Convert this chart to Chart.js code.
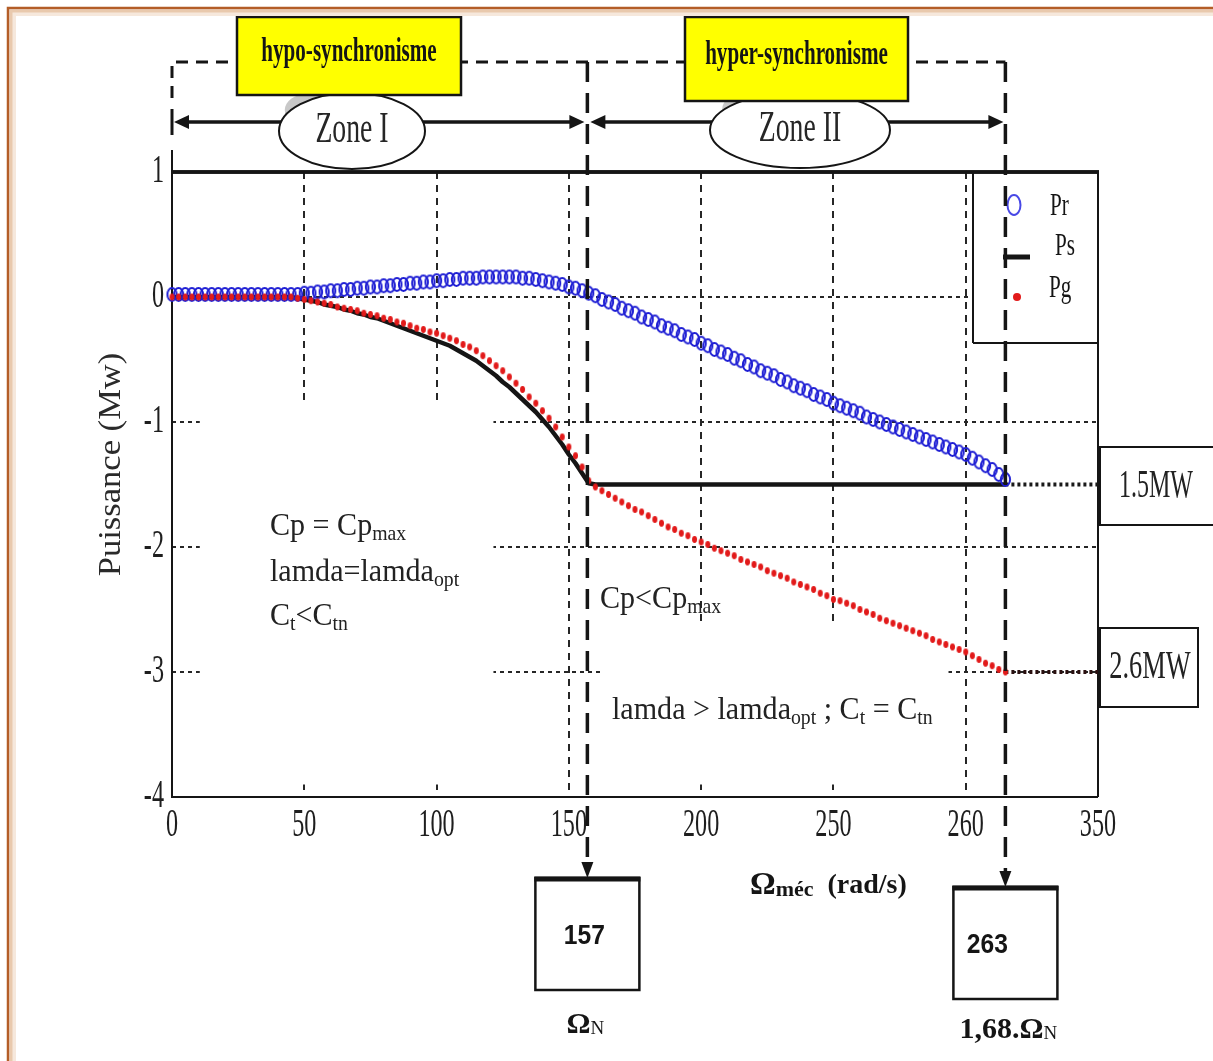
<!DOCTYPE html>
<html>
<head>
<meta charset="utf-8">
<title>Puissances Pr, Ps, Pg en fonction de la vitesse mécanique</title>
<script src="https://cdn.jsdelivr.net/npm/chart.js@4.4.1/dist/chart.umd.min.js"></script>
<style>
  html, body { margin: 0; padding: 0; background: #ffffff; }
  #wrap { position: relative; width: 1213px; height: 1061px; }
</style>
</head>
<body>
<div id="wrap"><canvas id="fig" width="1213" height="1061"></canvas></div>
<script>
// Vitesse mécanique (rad/s)
const omega = [
  0, 2.5, 5, 7.5, 10, 12.5, 15, 17.5, 20, 22.5,
  25, 27.5, 30, 32.5, 35, 37.5, 40, 42.5, 45, 47.5,
  50, 52.5, 55, 57.5, 60, 62.5, 65, 67.5, 70, 72.5,
  75, 77.5, 80, 82.5, 85, 87.5, 90, 92.5, 95, 97.5,
  100, 102.5, 105, 107.5, 110, 112.5, 115, 117.5, 120, 122.5,
  125, 127.5, 130, 132.5, 135, 137.5, 140, 142.5, 145, 147.5,
  150, 152.5, 155, 157.5, 160, 162.5, 165, 167.5, 170, 172.5,
  175, 177.5, 180, 182.5, 185, 187.5, 190, 192.5, 195, 197.5,
  200, 202.5, 205, 207.5, 210, 212.5, 215, 217.5, 220, 222.5,
  225, 227.5, 230, 232.5, 235, 237.5, 240, 242.5, 245, 247.5,
  250, 252.5, 255, 257.5, 260, 262.5, 265, 267.5, 270, 272.5,
  275, 277.5, 280, 282.5, 285, 287.5, 290, 292.5, 295, 297.5,
  300, 302.5, 305, 307.5, 310, 312.5, 315
];

// Puissance rotorique Pr (MW)
const pr = [
  0.02, 0.02, 0.02, 0.02, 0.02, 0.02, 0.02, 0.02, 0.02, 0.02,
  0.02, 0.02, 0.02, 0.02, 0.02, 0.02, 0.02, 0.02, 0.02, 0.02,
  0.03, 0.03, 0.04, 0.04, 0.05, 0.05, 0.06, 0.06, 0.07, 0.07,
  0.08, 0.08, 0.09, 0.09, 0.10, 0.10, 0.11, 0.11, 0.12, 0.12,
  0.13, 0.13, 0.14, 0.14, 0.15, 0.15, 0.15, 0.16, 0.16, 0.16,
  0.16, 0.16, 0.16, 0.15, 0.15, 0.14, 0.13, 0.12, 0.11, 0.10,
  0.08, 0.07, 0.05, 0.03, 0.01, -0.02, -0.04, -0.06, -0.09, -0.11,
  -0.13, -0.16, -0.18, -0.20, -0.23, -0.25, -0.27, -0.30, -0.32, -0.34,
  -0.37, -0.39, -0.42, -0.44, -0.46, -0.49, -0.51, -0.54, -0.56, -0.59,
  -0.61, -0.63, -0.66, -0.68, -0.71, -0.73, -0.75, -0.78, -0.80, -0.82,
  -0.85, -0.87, -0.89, -0.91, -0.93, -0.96, -0.98, -1.00, -1.02, -1.04,
  -1.06, -1.08, -1.10, -1.12, -1.14, -1.16, -1.18, -1.20, -1.22, -1.24,
  -1.26, -1.29, -1.32, -1.35, -1.38, -1.42, -1.46
];

// Puissance statorique Ps (MW)
const ps = [
  0, 0, 0, 0, 0, 0, 0, 0, 0, 0,
  0, 0, 0, 0, 0, 0, 0, 0, 0, -0.01,
  -0.02, -0.03, -0.04, -0.06, -0.07, -0.08, -0.10, -0.11, -0.13, -0.14,
  -0.16, -0.17, -0.19, -0.21, -0.23, -0.25, -0.27, -0.29, -0.31, -0.33,
  -0.35, -0.37, -0.39, -0.42, -0.45, -0.48, -0.51, -0.55, -0.59, -0.63,
  -0.68, -0.72, -0.77, -0.82, -0.87, -0.92, -0.98, -1.04, -1.11, -1.18,
  -1.26, -1.33, -1.41, -1.49, -1.50, -1.50, -1.50, -1.50, -1.50, -1.50,
  -1.50, -1.50, -1.50, -1.50, -1.50, -1.50, -1.50, -1.50, -1.50, -1.50,
  -1.50, -1.50, -1.50, -1.50, -1.50, -1.50, -1.50, -1.50, -1.50, -1.50,
  -1.50, -1.50, -1.50, -1.50, -1.50, -1.50, -1.50, -1.50, -1.50, -1.50,
  -1.50, -1.50, -1.50, -1.50, -1.50, -1.50, -1.50, -1.50, -1.50, -1.50,
  -1.50, -1.50, -1.50, -1.50, -1.50, -1.50, -1.50, -1.50, -1.50, -1.50,
  -1.50, -1.50, -1.50, -1.50, -1.50, -1.50, -1.50
];

// Puissance totale générée Pg (MW)
const pg = [
  0, 0, 0, 0, 0, 0, 0, 0, 0, 0,
  0, 0, 0, 0, 0, 0, 0, 0, 0, -0.01,
  -0.02, -0.03, -0.04, -0.05, -0.06, -0.08, -0.09, -0.10, -0.11, -0.13,
  -0.14, -0.15, -0.17, -0.18, -0.20, -0.21, -0.23, -0.25, -0.26, -0.28,
  -0.29, -0.31, -0.33, -0.35, -0.38, -0.40, -0.43, -0.47, -0.51, -0.55,
  -0.59, -0.64, -0.69, -0.74, -0.80, -0.85, -0.91, -0.97, -1.04, -1.12,
  -1.20, -1.27, -1.36, -1.47, -1.52, -1.55, -1.58, -1.61, -1.64, -1.67,
  -1.70, -1.72, -1.75, -1.78, -1.81, -1.84, -1.86, -1.89, -1.91, -1.94,
  -1.96, -1.98, -2.01, -2.03, -2.05, -2.07, -2.10, -2.12, -2.14, -2.16,
  -2.19, -2.21, -2.23, -2.25, -2.28, -2.30, -2.32, -2.34, -2.37, -2.39,
  -2.42, -2.43, -2.45, -2.47, -2.50, -2.52, -2.54, -2.57, -2.59, -2.61,
  -2.63, -2.65, -2.67, -2.69, -2.71, -2.74, -2.76, -2.78, -2.80, -2.82,
  -2.84, -2.87, -2.90, -2.93, -2.95, -2.98, -3.00
];

// Prolongements pointillés au-delà de la zone II
const tailOmega = [315, 350];
const tailPs = [-1.5, -1.5];
const tailPg = [-3.0, -3.0];

const seriesNames = ['Pr', 'Ps', 'Pg'];
const xTickLabels = ['0', '50', '100', '150', '200', '250', '260', '350'];
const yTickLabels = ['-4', '-3', '-2', '-1', '0', '1'];

// Vitesses repères (position sur l'axe, texte du cadre)
const markerPos = [157, 315];
const markerText = ['157', '263'];
const levelText = ['1.5MW', '2.6MW'];
const zoneNames = ['Zone I', 'Zone II'];
const regimeNames = ['hypo-synchronisme', 'hyper-synchronisme'];

const INK = '#151515';
const BLUE = '#1f1fd4';
const RED = '#e21a1a';
const SERIF = '"Liberation Serif", "Times New Roman", serif';
const SANS = '"Liberation Sans", Arial, sans-serif';

function makeMark(w, h, rx, ry, stroke, fill, lw) {
  const c = document.createElement('canvas');
  c.width = w; c.height = h;
  const g = c.getContext('2d');
  g.beginPath();
  g.ellipse(w / 2, h / 2, rx, ry, 0, 0, Math.PI * 2);
  if (fill) { g.fillStyle = fill; g.fill(); }
  if (stroke) { g.lineWidth = lw; g.strokeStyle = stroke; g.stroke(); }
  return c;
}
const ringMark = makeMark(13, 17, 4.6, 6.4, BLUE, null, 2);
const dotMark = makeMark(7, 9, 2.5, 3.4, null, RED, 0);

const pts = (xs, ys) => xs.map((w, i) => ({ x: w, y: ys[i] }));

function font(size, bold, fam) { return (bold ? 'bold ' : '') + size + 'px ' + (fam || SERIF); }

// Draws a run of text pieces (for subscripts), optionally squeezed horizontally
function runs(ctx, parts, x, y, opt) {
  const sx = opt.sx || 1;
  const ws = parts.map(p => { ctx.font = font(p.size, p.bold, opt.fam); return ctx.measureText(p.s).width * sx; });
  const total = ws.reduce((s, w) => s + w, 0);
  let cx = opt.align === 'center' ? x - total / 2 : (opt.align === 'right' ? x - total : x);
  parts.forEach((p, i) => {
    ctx.save();
    ctx.font = font(p.size, p.bold, opt.fam);
    ctx.fillStyle = opt.color || INK;
    ctx.textBaseline = 'middle';
    ctx.textAlign = 'left';
    ctx.translate(cx, y + (p.dy || 0));
    ctx.scale(sx, 1);
    ctx.fillText(p.s, 0, 0);
    ctx.restore();
    cx += ws[i];
  });
}
function txt(ctx, s, x, y, size, opt) { runs(ctx, [{ s, size, bold: opt.bold }], x, y, opt); }

function line(ctx, x1, y1, x2, y2, w, dash) {
  ctx.save();
  ctx.strokeStyle = INK; ctx.lineWidth = w;
  ctx.setLineDash(dash || []);
  ctx.beginPath(); ctx.moveTo(x1, y1); ctx.lineTo(x2, y2); ctx.stroke();
  ctx.restore();
}
function tri(ctx, pts3) {
  ctx.save(); ctx.fillStyle = INK; ctx.beginPath();
  ctx.moveTo(pts3[0][0], pts3[0][1]); ctx.lineTo(pts3[1][0], pts3[1][1]); ctx.lineTo(pts3[2][0], pts3[2][1]);
  ctx.closePath(); ctx.fill(); ctx.restore();
}

// Areas kept free of grid lines behind the annotations (axis units)
const clearZones = [[10.5, 121.5, -0.83, -3.9], [162.5, 293.5, -2.62, -3.9]];

const figurePlugin = {
  id: 'figure',
  beforeDatasetsDraw(chart) {
    const { ctx, chartArea: a, scales: { x, y } } = chart;
    ctx.save();
    ctx.fillStyle = '#ffffff';
    clearZones.forEach(z => {
      const x0 = x.getPixelForValue(z[0]), x1 = x.getPixelForValue(z[1]);
      const y0 = y.getPixelForValue(z[2]), y1 = y.getPixelForValue(z[3]);
      ctx.fillRect(x0, y0, x1 - x0, y1 - y0);
    });
    ctx.restore();
    // axes box
    line(ctx, a.left, a.top - 22, a.left, a.bottom + 1, 2);
    line(ctx, a.left, a.bottom, a.right, a.bottom, 2);
    line(ctx, a.right, a.top, a.right, a.bottom, 2);
    line(ctx, a.left, a.top, a.right + 1, a.top, 3.5);
  },
  afterDatasetsDraw(chart) {
    const { ctx, chartArea: a } = chart;
    // legend box in the upper right corner
    const lx = 973, lh = 171;
    ctx.save();
    ctx.fillStyle = '#ffffff';
    ctx.fillRect(lx, a.top + 2, a.right - lx - 1, lh - 2);
    ctx.restore();
    line(ctx, lx, a.top, lx, a.top + lh, 2);
    line(ctx, lx, a.top + lh, a.right, a.top + lh, 2);
    line(ctx, a.left, a.top, a.right + 1, a.top, 3.5);
    const ds = chart.data.datasets;
    const byName = n => ds.find(d => d.label === n);
    // Pr
    ctx.save();
    ctx.strokeStyle = '#4848e6'; ctx.lineWidth = 2;
    ctx.beginPath(); ctx.ellipse(1014, 205, 6.5, 10, 0, 0, Math.PI * 2); ctx.stroke();
    ctx.restore();
    txt(ctx, seriesNames[0], 1050, 207, 32, { sx: 0.66 });
    // Ps
    ctx.save();
    ctx.strokeStyle = byName(seriesNames[1]).borderColor; ctx.lineWidth = 5;
    ctx.beginPath(); ctx.moveTo(1003, 257); ctx.lineTo(1030, 257); ctx.stroke();
    ctx.restore();
    txt(ctx, seriesNames[1], 1055, 247, 32, { sx: 0.66 });
    // Pg
    ctx.save();
    ctx.fillStyle = byName(seriesNames[2]).backgroundColor;
    ctx.beginPath(); ctx.arc(1017, 297, 4, 0, Math.PI * 2); ctx.fill();
    ctx.restore();
    txt(ctx, seriesNames[2], 1049, 289, 32, { sx: 0.66 });
  },
  afterDraw(chart) {
    const { ctx, chartArea: a, scales: { x, y } } = chart;
    const mx = markerPos.map(v => x.getPixelForValue(v));
    const TOP = 62, ARW = 122;

    // tick labels
    x.ticks.forEach(t => txt(ctx, t.label, x.getPixelForValue(t.value), a.bottom + 29, 39, { sx: 0.62, align: 'center', color: '#1e1e1e' }));
    y.ticks.forEach(t => txt(ctx, t.label, a.left - 8, y.getPixelForValue(t.value), 39, { sx: 0.62, align: 'right', color: '#1e1e1e' }));

    // axis titles
    ctx.save();
    ctx.translate(112, (a.top + a.bottom) / 2 - 20);
    ctx.rotate(-Math.PI / 2);
    ctx.scale(1.08, 1);
    ctx.font = font(32, false);
    ctx.fillStyle = '#2a2a2a';
    ctx.textAlign = 'center'; ctx.textBaseline = 'middle';
    ctx.fillText('Puissance (Mw)', 0, 0);
    ctx.restore();
    runs(ctx, [
      { s: 'Ω', size: 32, bold: true },
      { s: 'méc', size: 22, bold: true, dy: 4 },
      { s: '  (rad/s)', size: 28, bold: true }
    ], 750, 886, { sx: 1 });

    // dashed bracket above the plot
    ctx.save();
    ctx.strokeStyle = INK; ctx.lineWidth = 3; ctx.setLineDash([12, 8]);
    ctx.beginPath(); ctx.moveTo(a.left, TOP + 36); ctx.lineTo(a.left, TOP); ctx.lineTo(mx[1], TOP); ctx.stroke();
    ctx.restore();

    // zone arrows
    const hArrow = (x1, x2) => {
      line(ctx, x1 + 8, ARW, x2 - 8, ARW, 3.5);
      tri(ctx, [[x1, ARW], [x1 + 15, ARW - 7], [x1 + 15, ARW + 7]]);
      tri(ctx, [[x2, ARW], [x2 - 15, ARW - 7], [x2 - 15, ARW + 7]]);
    };
    hArrow(a.left + 2, mx[0] - 3);
    hArrow(mx[0] + 3, mx[1] - 2);
    line(ctx, a.left, ARW - 13, a.left, ARW + 13, 3);

    // zone bubbles
    const bubble = (cx, cy, rx, ry, label) => {
      ctx.save();
      ctx.fillStyle = '#c8c8c8';
      ctx.beginPath(); ctx.ellipse(cx - rx * 0.62, cy - ry * 0.55, 22, 16, 0, 0, Math.PI * 2); ctx.fill();
      ctx.fillStyle = '#ffffff'; ctx.strokeStyle = INK; ctx.lineWidth = 2;
      ctx.beginPath(); ctx.ellipse(cx, cy, rx, ry, 0, 0, Math.PI * 2); ctx.fill(); ctx.stroke();
      ctx.restore();
      txt(ctx, label, cx, cy - 1, 44, { sx: 0.63, align: 'center', color: '#262626' });
    };
    bubble(352, 131, 73, 38, zoneNames[0]);
    bubble(800, 130, 90, 38, zoneNames[1]);

    // regime tags
    const tag = (x0, y0, w, h, label) => {
      ctx.save();
      ctx.fillStyle = '#ffff00'; ctx.strokeStyle = INK; ctx.lineWidth = 2.5;
      ctx.fillRect(x0, y0, w, h); ctx.strokeRect(x0, y0, w, h);
      ctx.restore();
      txt(ctx, label, x0 + w / 2, y0 + h / 2 - 4, 34, { bold: true, sx: 0.62, align: 'center' });
    };
    tag(237, 17, 224, 78, regimeNames[0]);
    tag(685, 17, 223, 84, regimeNames[1]);

    // speed markers with their boxes
    const boxTop = [878, 887];
    const textDx = [-3, -18];
    const captions = [
      [{ s: 'Ω', size: 30, bold: true }, { s: 'N', size: 19, dy: 4 }],
      [{ s: '1,68.Ω', size: 30, bold: true }, { s: 'N', size: 19, dy: 4 }]
    ];
    const captionDy = [1025, 1030];
    mx.forEach((px, i) => {
      const tip = boxTop[i];
      line(ctx, px, TOP, px, tip - 14, 3.5, [20, 11]);
      tri(ctx, [[px, tip], [px - 6, tip - 16], [px + 6, tip - 16]]);
      ctx.save();
      ctx.fillStyle = '#ffffff'; ctx.strokeStyle = INK; ctx.lineWidth = 2.5;
      ctx.fillRect(px - 52, tip, 104, 112); ctx.strokeRect(px - 52, tip, 104, 112);
      ctx.restore();
      line(ctx, px - 53, tip + 1, px + 53, tip + 1, 5);
      txt(ctx, markerText[i], px + textDx[i], tip + 58, 28, { bold: true, fam: SANS, sx: 0.88, align: 'center' });
      runs(ctx, captions[i], px + (i ? 3 : -2), captionDy[i], { sx: 1, align: 'center' });
    });

    // level boxes on the right
    const lvl = [[1100, 447, 120, 78, 0.6], [1100, 628, 98, 79, 0.66]];
    lvl.forEach((b, i) => {
      ctx.save();
      ctx.fillStyle = '#ffffff'; ctx.strokeStyle = INK; ctx.lineWidth = 2;
      ctx.fillRect(b[0], b[1], b[2], b[3]); ctx.strokeRect(b[0], b[1], b[2], b[3]);
      ctx.restore();
      txt(ctx, levelText[i], i ? 1150 : 1156, b[1] + b[3] / 2, 40, { sx: b[4], align: 'center', color: '#222' });
    });

    // operating conditions
    const S = 32, s = 21;
    const opt = { sx: 0.94, color: '#222' };
    runs(ctx, [{ s: 'Cp = Cp', size: S }, { s: 'max', size: s, dy: 7 }], 270, 527, opt);
    runs(ctx, [{ s: 'lamda=lamda', size: S }, { s: 'opt', size: s, dy: 7 }], 270, 573, opt);
    runs(ctx, [{ s: 'C', size: S }, { s: 't', size: s, dy: 7 }, { s: '<C', size: S }, { s: 'tn', size: s, dy: 7 }], 270, 617, opt);
    runs(ctx, [{ s: 'Cp<Cp', size: S }, { s: 'max', size: s, dy: 7 }], 600, 600, opt);
    runs(ctx, [
      { s: 'lamda > lamda', size: S }, { s: 'opt', size: s, dy: 7 },
      { s: ' ; C', size: S }, { s: 't', size: s, dy: 7 },
      { s: ' = C', size: S }, { s: 'tn', size: s, dy: 7 }
    ], 612, 711, opt);

    // page frame
    ctx.save();
    ctx.strokeStyle = '#f6e8dc'; ctx.lineWidth = 4;
    ctx.beginPath(); ctx.moveTo(14, 1061); ctx.lineTo(14, 14); ctx.lineTo(1213, 14); ctx.stroke();
    ctx.strokeStyle = '#e9c9ad'; ctx.lineWidth = 3;
    ctx.beginPath(); ctx.moveTo(11, 1061); ctx.lineTo(11, 11); ctx.lineTo(1213, 11); ctx.stroke();
    ctx.strokeStyle = '#b35d27'; ctx.lineWidth = 2.5;
    ctx.beginPath(); ctx.moveTo(8, 1061); ctx.lineTo(8, 8); ctx.lineTo(1213, 8); ctx.stroke();
    ctx.restore();
  }
};

new Chart(document.getElementById('fig'), {
  type: 'scatter',
  data: {
    datasets: [
      { label: 'Pg', data: pts(omega, pg), pointStyle: dotMark, pointRadius: 3, backgroundColor: RED, borderColor: RED, showLine: false, order: 0, clip: false },
      { label: 'Pr', data: pts(omega, pr), pointStyle: ringMark, pointRadius: 5, backgroundColor: BLUE, borderColor: BLUE, showLine: false, order: 1, clip: false },
      { label: 'Ps', data: pts(omega, ps), showLine: true, borderColor: INK, backgroundColor: INK, borderWidth: 4.5, borderJoinStyle: 'round', pointRadius: 0, order: 2, clip: false },
      { label: 'Ps (suite)', data: pts(tailOmega, tailPs), showLine: true, borderColor: '#1a1a1a', borderWidth: 4, borderDash: [3, 3], pointRadius: 0, order: 3 },
      { label: 'Pg (suite)', data: pts(tailOmega, tailPg), showLine: true, borderColor: '#2a1010', borderWidth: 4, borderDash: [3, 3], pointRadius: 0, order: 3 }
    ]
  },
  options: {
    responsive: false,
    devicePixelRatio: 1,
    animation: false,
    events: [],
    layout: { padding: { left: 0, right: 115, top: 172, bottom: 264 } },
    plugins: { legend: { display: false }, tooltip: { enabled: false }, title: { display: false } },
    scales: {
      x: {
        type: 'linear', min: 0, max: 350,
        ticks: { stepSize: 50, display: false, callback: (v, i) => xTickLabels[i] },
        grid: { color: '#262626', lineWidth: 2, drawTicks: false },
        border: { display: false, dash: [7, 6] },
        afterFit: s => { s.height = 0; }
      },
      y: {
        type: 'linear', min: -4, max: 1,
        ticks: { stepSize: 1, display: false, callback: (v, i) => yTickLabels[i] },
        grid: { color: '#262626', lineWidth: 2, drawTicks: false },
        border: { display: false, dash: [4, 4] },
        afterFit: s => { s.width = 172; }
      }
    }
  },
  plugins: [figurePlugin]
});
</script>
</body>
</html>
